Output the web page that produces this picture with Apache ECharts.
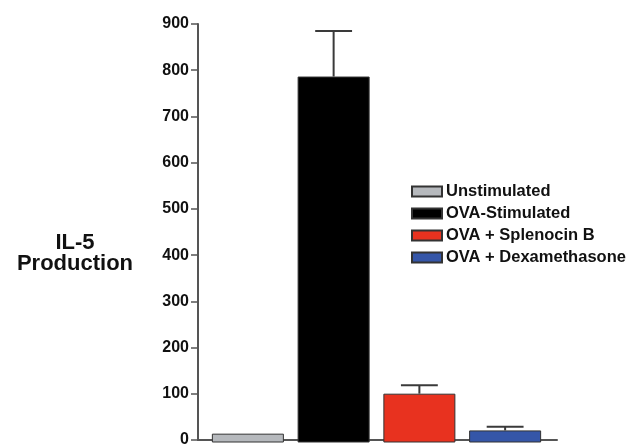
<!DOCTYPE html>
<html><head><meta charset="utf-8">
<script src="https://cdn.jsdelivr.net/npm/echarts@6/dist/echarts.min.js"></script>
<style>html,body{margin:0;padding:0;background:#fff}#c{width:636px;height:448px}</style>
</head><body><div id="c"></div>
<script>
const categories = ['Unstimulated', 'OVA-Stimulated', 'OVA + Splenocin B', 'OVA + Dexamethasone'];
const means = [19, 787, 105, 26];
const errors = [0, 98, 18, 8];
const colors = ['#b6b9bd', '#000000', '#e8321f', '#3556a8'];
const yTicks = [0, 100, 200, 300, 400, 500, 600, 700, 800, 900];

const FONT = 'Arial, "Liberation Sans", sans-serif';
const chart = echarts.init(document.getElementById('c'));

const barSeries = categories.map((name, i) => ({
  name: name,
  type: 'bar',
  xAxisIndex: 1,
  yAxisIndex: 1,
  stack: 'all',
  barWidth: '84%',
  data: categories.map((_, j) => j === i ? means[i] : '-'),
  itemStyle: { color: colors[i], borderColor: '#333', borderWidth: 1 },
  emphasis: { disabled: true }
}));

const errSeries = {
  type: 'custom',
  xAxisIndex: 1,
  yAxisIndex: 1,
  z: 3,
  data: categories.map((_, i) => [i, means[i], means[i] + errors[i]]).filter(d => d[2] > d[1]),
  renderItem: function (params, api) {
    const x = api.value(0);
    const lo = api.coord([x, api.value(1)]);
    const hi = api.coord([x, api.value(2)]);
    const half = api.size([1, 0])[0] * 0.215;
    const style = { stroke: '#3a3a3a', lineWidth: 2 };
    return {
      type: 'group',
      children: [
        { type: 'line', shape: { x1: lo[0], y1: lo[1], x2: hi[0], y2: hi[1] }, style: style },
        { type: 'line', shape: { x1: hi[0] - half, y1: hi[1], x2: hi[0] + half, y2: hi[1] }, style: style }
      ]
    };
  }
};

chart.setOption({
  animation: false,
  backgroundColor: '#ffffff',
  title: {
    text: 'IL-5\nProduction',
    left: 75,
    top: 232,
    padding: 0,
    textAlign: 'center',
    textStyle: { fontFamily: FONT, fontSize: 22, fontWeight: 'bold', color: '#111', lineHeight: 21 }
  },
  legend: {
    orient: 'vertical',
    left: 411,
    top: 183,
    padding: 0,
    itemWidth: 30,
    itemHeight: 10,
    itemGap: 5,
    icon: 'rect',
    data: categories,
    textStyle: { fontFamily: FONT, fontSize: 16.5, fontWeight: 'bold', color: '#111', padding: [0, 0, 0, -1] }
  },
  grid: [
    { left: 198, right: 79, top: 24, bottom: 5.5 },
    { left: 205, right: 88, top: 24, bottom: 5.5 }
  ],
  xAxis: [
    { type: 'category', gridIndex: 0, data: [''],
      axisLine: { show: true, lineStyle: { color: '#555', width: 2 } },
      axisTick: { show: false }, axisLabel: { show: false } },
    { type: 'category', gridIndex: 1, data: categories, show: false }
  ],
  yAxis: [
    { type: 'value', gridIndex: 0, min: yTicks[0], max: yTicks[yTicks.length - 1], interval: 100,
      axisLine: { show: true, lineStyle: { color: '#555', width: 2 } },
      axisTick: { show: true, length: 7, lineStyle: { color: '#555', width: 1.5 } },
      splitLine: { show: false },
      axisLabel: { margin: 9, fontFamily: FONT, fontSize: 16, fontWeight: 'bold', color: '#111' } },
    { type: 'value', gridIndex: 1, min: yTicks[0], max: yTicks[yTicks.length - 1], show: false, splitLine: { show: false } }
  ],
  series: barSeries.concat([errSeries])
});
</script></body></html>
